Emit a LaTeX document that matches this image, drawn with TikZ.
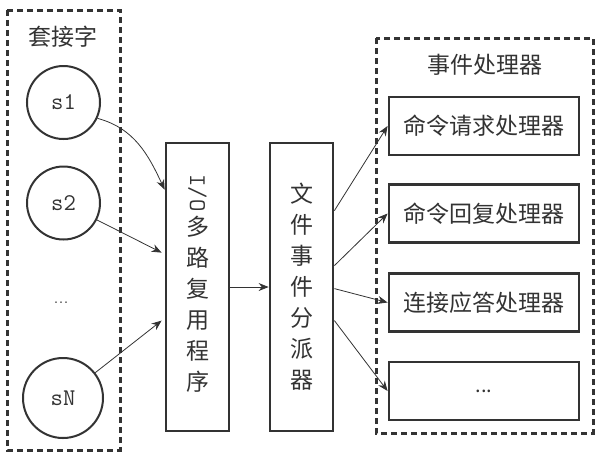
\documentclass[tikz,border=0pt]{standalone}
\usepackage{fontspec}
\newfontfamily\cjk{Noto Sans CJK SC}
\usetikzlibrary{positioning}
\usetikzlibrary{arrows.meta}
\definecolor{ink}{HTML}{333333}
\tikzset{
  group/.style={draw=ink, line width=3pt, dash pattern=on 6pt off 4pt},
  sock/.style={circle, draw=ink, line width=2pt, minimum size=73pt, inner sep=0pt,
    text=ink, font=\ttfamily\fontsize{24}{24}\selectfont},
  stack/.style={draw=ink, line width=2.8pt, minimum width=63pt, minimum height=288pt,
    align=center, inner sep=0pt, text=ink, font=\cjk\fontsize{23}{31}\selectfont},
  handler/.style={draw=ink, line width=2.8pt, minimum width=190pt, minimum height=58pt,
    inner sep=0pt, text=ink, font=\cjk\fontsize{23}{23}\selectfont},
  title/.style={text=ink, font=\cjk\fontsize{23}{23}\selectfont},
  link/.style={-{Stealth[length=10pt,width=8pt]}, draw=ink, line width=0.8pt},
}

\begin{document}
\begin{tikzpicture}[x=1pt,y=-1pt]
\useasboundingbox (0,0) rectangle (604,456);
% sockets
\draw[group] (7,10) rectangle (120,450);
\node[title] (sockets) at (63,37) {套接字};
\node[sock] (s1) at (63.5,102.5) {s1};
\node[sock] (s2) at (63.5,203) {s2};
\node[text=ink] (sdots) at (61,303) {\fontsize{20}{20}\selectfont ...};
\node[sock, minimum size=80pt] (sN) at (63,398) {sN};
% multiplexer and dispatcher
\node[stack] (io) at (197.5,287) {\raisebox{0pt}{\rotatebox{-90}{\ttfamily\fontsize{24}{24}\selectfont I/O}}\\[4pt]多\\路\\复\\用\\程\\序\\[-22pt]};
\node[stack] (disp) at (301.5,287) {文\\件\\事\\件\\分\\派\\器};
% handlers
\draw[group] (376,38) rectangle (593,433);
\node[title] (handlers) at (485,65) {事件处理器};
\node[handler] (h1) at (484,126) {命令请求处理器};
\node[handler] (h2) at (484,213.5) {命令回复处理器};
\node[handler] (h3) at (484,302.5) {连接应答处理器};
\node[handler] (h4) at (484,391) {\fontsize{20}{20}\selectfont ...};
% connectors
\coordinate (in1) at ([yshift=-48pt]io.north west);
\coordinate (in2) at ([yshift=-111pt,xshift=-3pt]io.north west);
\coordinate (in3) at ([yshift=-179pt,xshift=-3pt]io.north west);
\coordinate (out1) at ([yshift=-69pt]disp.north east);
\coordinate (out2) at ([yshift=-124pt]disp.north east);
\coordinate (out3) at ([yshift=-147pt]disp.north east);
\coordinate (out4) at ([yshift=-179pt]disp.north east);
\draw[link] (s1.-25) to[out=-15,in=115] (in1);
\draw[link] (s2) -- (in2);
\draw[link] (sN) -- (in3);
\draw[link] (io) -- (disp);
\draw[link] (out1) -- (h1.west);
\draw[link] (out2) -- (h2.west);
\draw[link] (out3) -- (h3.west);
\draw[link] (out4) -- (h4.west);
\end{tikzpicture}
\end{document}
